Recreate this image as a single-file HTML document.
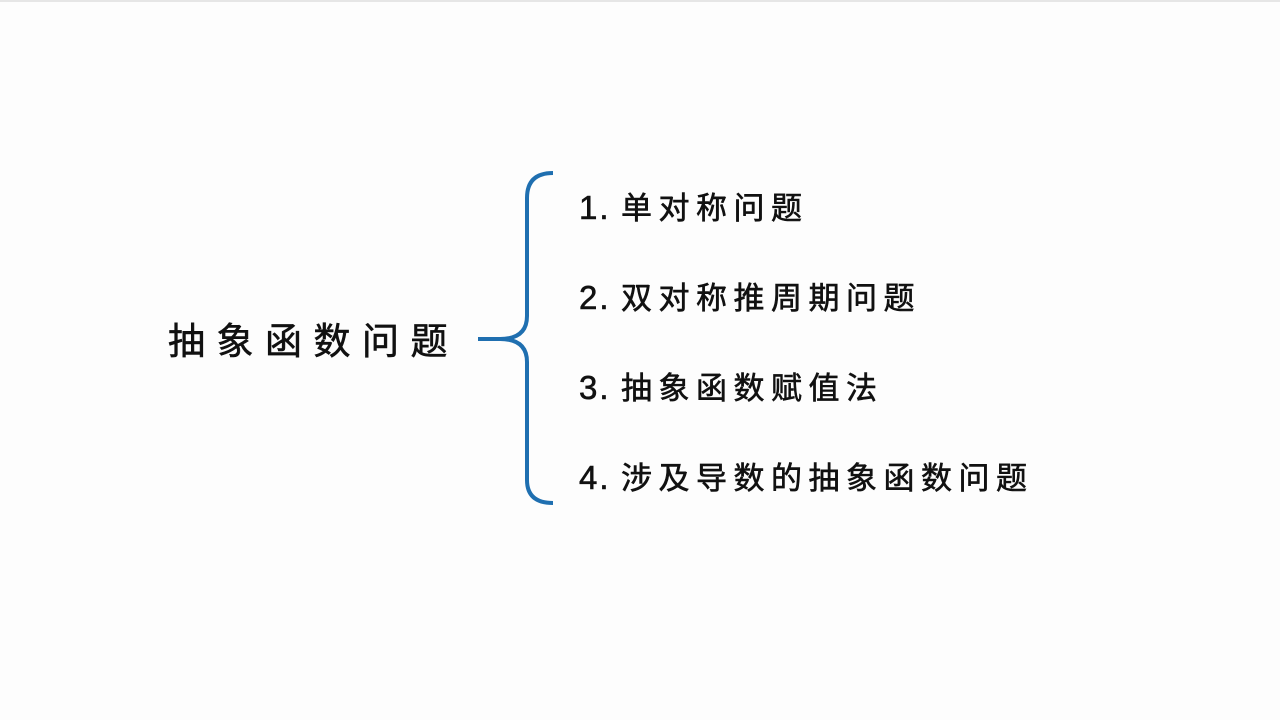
<!DOCTYPE html>
<html><head><meta charset="utf-8"><style>
html,body{margin:0;padding:0;background:#fdfdfd;width:1280px;height:720px;overflow:hidden;position:relative}
.t{position:absolute;font-family:"Liberation Sans","Noto Sans CJK SC",sans-serif;color:#111;white-space:nowrap;line-height:1;-webkit-text-stroke:0.6px #111}
.title{left:168px;top:323px;font-size:37px;letter-spacing:11.5px}
.it{left:579px;font-size:31px;letter-spacing:6.5px}
.n{display:inline-block;width:42px;letter-spacing:2px;font-size:33px}
</style></head><body>
<div style="position:absolute;left:0;top:0;width:1280px;height:2px;background:#e6e6e6"></div>
<svg width="1280" height="720" style="position:absolute;left:0;top:0">
<path d="M553 173 Q527 173 527 198 L527 316 Q527 339 500 339 L478 339 M500 339 Q527 339 527 362 L527 480 Q527 503 553 503" fill="none" stroke="#1f6fb0" stroke-width="4"/>
</svg>
<div class="t title">抽象函数问题</div>
<div class="t it" style="top:191px"><span class="n">1.</span>单对称问题</div>
<div class="t it" style="top:281px"><span class="n">2.</span>双对称推周期问题</div>
<div class="t it" style="top:371px"><span class="n">3.</span>抽象函数赋值法</div>
<div class="t it" style="top:461px"><span class="n">4.</span>涉及导数的抽象函数问题</div>
</body></html>
